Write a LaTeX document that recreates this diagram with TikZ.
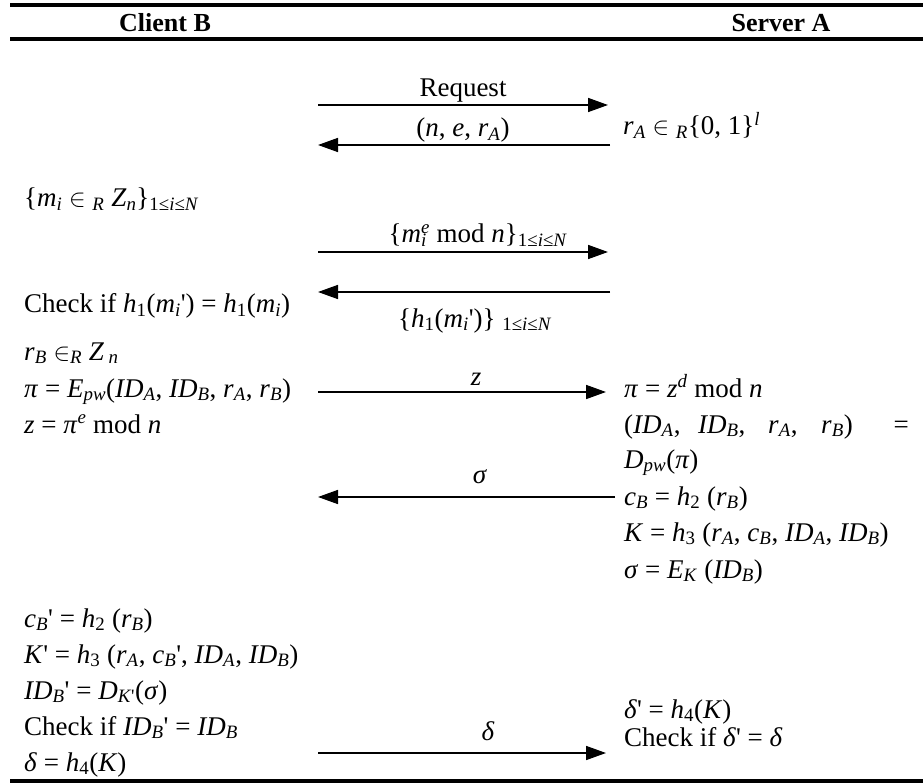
\documentclass[tikz,border=0pt]{standalone}
\usepackage{fontspec}
\setmainfont{Liberation Serif}
\usetikzlibrary{arrows.meta}
\newcommand{\I}[1]{\textit{#1}}
\newcommand{\Sb}[1]{\textsubscript{#1}}
\newcommand{\Sp}[1]{\textsuperscript{#1}}
\newcommand{\inR}{$\in$}
\newcommand{\pr}{\textquotesingle}
\begin{document}
\begin{tikzpicture}[x=1pt,y=-1pt,
  txt/.style={anchor=base west,inner sep=0pt,font=\fontsize{27}{31}\selectfont},
  lbl/.style={anchor=base,inner sep=0pt,font=\fontsize{27}{31}\selectfont},
  txe/.style={anchor=base east,inner sep=0pt,font=\fontsize{27}{31}\selectfont},
  hdr/.style={anchor=base,inner sep=0pt,font=\fontsize{26}{31}\selectfont\bfseries},
  rulebar/.style={line width=4pt},
  msg/.style={line width=1.6pt,-{Triangle[length=20pt,width=14pt]}}]
\useasboundingbox (0,0) rectangle (923,783);
% rules
\coordinate (r1a) at (10,5);   \coordinate (r1b) at (923,5);
\coordinate (r2a) at (10,39);  \coordinate (r2b) at (923,39);
\coordinate (r3a) at (10,781); \coordinate (r3b) at (923,781);
\draw[rulebar] (r1a) -- (r1b);
\draw[rulebar] (r2a) -- (r2b);
\draw[rulebar] (r3a) -- (r3b);
% headers
\node[hdr] (hB) at (165,32) {Client B};
\node[hdr] (hA) at (781,32) {Server A};
% step 1
\node[lbl] (req) at (463,97) {Request};
\node[lbl] (nerA) at (463,137) {(\I{n}, \I{e}, \I{r}\Sb{\I{A}})};
\node[txt] (rA) at (623,135) {\I{r}\Sb{\I{A}} \inR{} \Sb{\I{R}}\{0, 1\}\Sp{\I{l}}};
\coordinate (m1s) at (318,105); \coordinate (m1e) at (608,105);
\coordinate (m2s) at (610,145); \coordinate (m2e) at (318,145);
\draw[msg] (m1s) -- (m1e);
\draw[msg] (m2s) -- (m2e);
% step 2
\node[txt] (mi) at (24,207) {\{\I{m}\Sb{\I{i}} \inR{} \Sb{\I{R}} \I{Z}\Sb{\I{n}}\}\Sb{1≤\I{i}≤\I{N}}};
\node[lbl] (mie) at (478,243) {\{\I{m}\rlap{\Sb{\I{i}}}\Sp{\I{e}} mod \I{n}\}\Sb{1≤\I{i}≤\I{N}}};
\coordinate (m3s) at (318,252); \coordinate (m3e) at (608,252);
\coordinate (m4s) at (610,292); \coordinate (m4e) at (318,292);
\draw[msg] (m3s) -- (m3e);
\draw[msg] (m4s) -- (m4e);
\node[txt] (chk1) at (24,313) {Check if \I{h}\Sb{1}(\I{m}\Sb{\I{i}}\pr) = \I{h}\Sb{1}(\I{m}\Sb{\I{i}})};
\node[lbl] (h1) at (475,327) {\{\I{h}\Sb{1}(\I{m}\Sb{\I{i}}\pr)\} \Sb{1≤\I{i}≤\I{N}}};
% step 3
\node[txt] (rB) at (24,360) {\I{r}\Sb{\I{B}} \inR\Sb{\I{R}} \I{Z}\,\Sb{\I{n}}};
\node[txt] (piE) at (24,397) {\I{π} = \I{E}\Sb{\I{pw}}(\I{ID}\Sb{\I{A}}, \I{ID}\Sb{\I{B}}, \I{r}\Sb{\I{A}}, \I{r}\Sb{\I{B}})};
\node[txt] (zpi) at (24,433) {\I{z} = \I{π}\Sp{\I{e}} mod \I{n}};
\node[lbl] (zl) at (476,385) {\I{z}};
\coordinate (m5s) at (318,392); \coordinate (m5e) at (606,392);
\draw[msg] (m5s) -- (m5e);
\node[txt] (pid) at (624,397) {\I{π} = \I{z}\Sp{\I{d}} mod \I{n}};
\node[txt] (id1) at (624,433) {(\I{ID}\Sb{\I{A}},};
\node[txt] (id2) at (698,433) {\I{ID}\Sb{\I{B}},};
\node[txt] (id3) at (768,433) {\I{r}\Sb{\I{A}},};
\node[txt] (id4) at (821,433) {\I{r}\Sb{\I{B}})};
\node[txe] (id5) at (909,433) {=};
\node[txt] (dpw) at (624,468) {\I{D}\Sb{\I{pw}}(\I{π})};
% step 4
\node[lbl] (sl) at (480,483) {\I{σ}};
\coordinate (m6s) at (615,497); \coordinate (m6e) at (318,497);
\draw[msg] (m6s) -- (m6e);
\node[txt] (cB) at (624,505) {\I{c}\Sb{\I{B}} = \I{h}\Sb{2} (\I{r}\Sb{\I{B}})};
\node[txt] (K) at (624,541) {\I{K} = \I{h}\Sb{3} (\I{r}\Sb{\I{A}}, \I{c}\Sb{\I{B}}, \I{ID}\Sb{\I{A}}, \I{ID}\Sb{\I{B}})};
\node[txt] (sig) at (624,578) {\I{σ} = \I{E}\Sb{\I{K}} (\I{ID}\Sb{\I{B}})};
% step 5
\node[txt] (cBp) at (24,627) {\I{c}\Sb{\I{B}}\pr{} = \I{h}\Sb{2} (\I{r}\Sb{\I{B}})};
\node[txt] (Kp) at (24,663) {\I{K}\pr{} = \I{h}\Sb{3} (\I{r}\Sb{\I{A}}, \I{c}\Sb{\I{B}}\pr, \I{ID}\Sb{\I{A}}, \I{ID}\Sb{\I{B}})};
\node[txt] (IDp) at (24,699) {\I{ID}\Sb{\I{B}}\pr{} = \I{D}\Sb{\I{K}\pr}(\I{σ})};
\node[txt] (chk2) at (24,735) {Check if \I{ID}\Sb{\I{B}}\pr{} = \I{ID}\Sb{\I{B}}};
\node[txt] (dl) at (24,771) {\I{δ} = \I{h}\Sb{4}(\I{K})};
\node[txt] (dp) at (624,718) {\I{δ}\pr{} = \I{h}\Sb{4}(\I{K})};
\node[txt] (chk3) at (624,746) {Check if \I{δ}\pr{} = \I{δ}};
\node[lbl] (dlab) at (488,740) {\I{δ}};
\coordinate (m7s) at (318,753); \coordinate (m7e) at (606,753);
\draw[msg] (m7s) -- (m7e);
\end{tikzpicture}
\end{document}
